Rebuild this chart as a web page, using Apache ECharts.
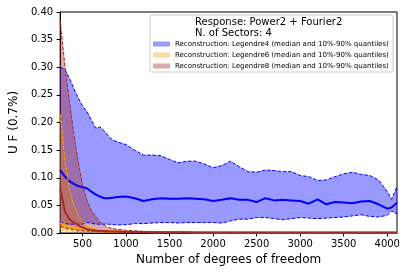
<!DOCTYPE html>
<html><head><meta charset="utf-8">
<script src="https://cdn.jsdelivr.net/npm/echarts@6/dist/echarts.min.js"></script>
<style>html,body{margin:0;padding:0;background:#fff}#c{width:408px;height:274px}</style>
</head><body><div id="c"></div>
<script>
const dof = [244,300,350,400,450,500,550,600,650,700,750,800,850,900,
  1000,1100,1200,1300,1400,1500,1600,1700,1800,1900,2000,2100,2200,2300,2400,2500,2600,2700,2800,2900,3000,3100,3200,3300,3400,3500,3600,3700,3800,3900,4000,4050,4112];

const leg4Hi = [.300,.296,.280,.262,.245,.230,.220,.205,.190,.192,.185,.175,.168,.165,
  .160,.150,.141,.141,.140,.133,.127,.130,.130,.125,.118,.122,.130,.120,.111,.110,.114,.113,.111,.111,.104,.102,.095,.096,.102,.107,.110,.106,.104,.096,.075,.061,.084];
const leg4Med = [.114,.102,.094,.089,.085,.083,.081,.075,.070,.066,.063,.063,.064,.065,
  .066,.063,.058,.061,.063,.062,.062,.063,.062,.061,.058,.060,.063,.060,.060,.056,.063,.059,.060,.059,.058,.053,.061,.052,.056,.055,.054,.057,.058,.052,.044,.046,.055];
const leg4Lo = [.019,.017,.016,.016,.016,.016,.019,.018,.016,.016,.016,.016,.015,.0145,
  .015,.017,.017,.018,.019,.019,.018,.019,.019,.019,.019,.018,.022,.025,.025,.028,.028,.026,.024,.026,.028,.027,.026,.027,.028,.029,.031,.033,.030,.029,.032,.040,.034];

const leg6Hi = [.215,.130,.080,.050,.033,.022,.013,.009,.007,.005,.004,.0035,.003,.003,
  .0025,.0022,.002,.002,.0018,.0016,.0015,.0015,.0014,.0014,.0013,.0013,.0013,.0012,.0012,.0012,.0012,.0011,.0011,.0011,.0011,.0011,.001,.001,.001,.001,.001,.001,.001,.001,.001,.001,.001];
const leg6Med = [.018,.014,.011,.009,.008,.007,.006,.005,.0045,.004,.0035,.003,.0027,.0025,
  .002,.0018,.0016,.0015,.0014,.0013,.0012,.0012,.0011,.0011,.001,.001,.001,.001,.0009,.0009,.0009,.0009,.0009,.0008,.0008,.0008,.0008,.0008,.0008,.0008,.0008,.0007,.0007,.0007,.0007,.0007,.0007];
const leg6Lo = [.006,.004,.0035,.003,.0027,.0024,.0022,.002,.0018,.0016,.0015,.0014,.0013,.0012,
  .0011,.001,.001,.0009,.0009,.0009,.0008,.0008,.0008,.0007,.0007,.0007,.0007,.0007,.0006,.0006,.0006,.0006,.0006,.0006,.0006,.0006,.0006,.0006,.0006,.0006,.0006,.0006,.0006,.0006,.0006,.0006,.0006];

const leg8Hi = [.385,.300,.240,.180,.130,.088,.060,.041,.030,.020,.014,.010,.008,.0067,
  .005,.004,.003,.0025,.002,.0018,.0016,.0015,.0014,.0013,.0013,.0012,.0012,.0012,.0011,.0011,.0011,.0011,.001,.001,.001,.001,.001,.001,.001,.001,.001,.001,.001,.001,.001,.001,.001];
const leg8Med = [.081,.038,.025,.019,.014,.010,.007,.0055,.0045,.0038,.0035,.003,.0027,.0025,
  .002,.0018,.0016,.0015,.0014,.0013,.0012,.0012,.0011,.0011,.001,.001,.001,.001,.0009,.0009,.0009,.0009,.0009,.0008,.0008,.0008,.0008,.0008,.0008,.0008,.0008,.0008,.0008,.0008,.0008,.0008,.0008];
const leg8Lo = [.012,.009,.0075,.006,.005,.004,.0035,.003,.0027,.0025,.0022,.002,.0019,.0018,
  .0015,.0014,.0013,.0012,.0011,.001,.001,.0009,.0009,.0008,.0008,.0008,.0007,.0007,.0007,.0007,.0006,.0006,.0006,.0006,.0006,.0006,.0006,.0006,.0006,.0006,.0006,.0006,.0006,.0006,.0006,.0006,.0006];

const xTicks = [500,1000,1500,2000,2500,3000,3500,4000];
const legendNames = [
  'Reconstruction: Legendre4 (median and 10%-90% quantiles)',
  'Reconstruction: Legendre6 (median and 10%-90% quantiles)',
  'Reconstruction: Legendre8 (median and 10%-90% quantiles)'
];
const titleLines = ['Response: Power2 + Fourier2', 'N. of Sectors: 4'];

const FONT = '"DejaVu Sans", sans-serif';
const groups = [
  {name: legendNames[0], hi: leg4Hi, med: leg4Med, lo: leg4Lo, line: '#0000ff', fill: 'rgba(0,0,255,0.4)'},
  {name: legendNames[1], hi: leg6Hi, med: leg6Med, lo: leg6Lo, line: '#ffa500', fill: 'rgba(255,165,0,0.4)'},
  {name: legendNames[2], hi: leg8Hi, med: leg8Med, lo: leg8Lo, line: '#a52a2a', fill: 'rgba(165,42,42,0.4)'}
];

function pairs(ys){ return dof.map((x,i)=>[x, ys[i]]); }

const series = [];
groups.forEach((g, gi) => {
  series.push({
    type: 'custom', name: g.name, z: 2 + gi * 0.1, silent: true, clip: true,
    itemStyle: {color: g.fill},
    data: dof.map((x,i)=>[x, g.lo[i], g.hi[i]]),
    encode: {x: 0, y: [1, 2]},
    renderItem: function(params, api){
      if (params.dataIndex !== 0) return;
      const pts = [];
      for (let i = 0; i < dof.length; i++) pts.push(api.coord([dof[i], g.hi[i]]));
      for (let i = dof.length - 1; i >= 0; i--) pts.push(api.coord([dof[i], g.lo[i]]));
      return {type: 'polygon', shape: {points: pts}, style: {fill: g.fill}};
    }
  });
});
groups.forEach((g, gi) => {
  const base = {type: 'line', symbol: 'none', showSymbol: false, silent: true, z: 3 + gi * 0.1, clip: true};
  series.push(Object.assign({}, base, {name: 'hi' + gi, data: pairs(g.hi), lineStyle: {color: g.line, width: 1, type: [3.7, 1.6]}}));
  series.push(Object.assign({}, base, {name: 'lo' + gi, data: pairs(g.lo), lineStyle: {color: g.line, width: 1, type: [3.7, 1.6]}}));
  series.push(Object.assign({}, base, {name: 'med' + gi, data: pairs(g.med), lineStyle: {color: g.line, width: 2}}));
});

const chart = echarts.init(document.getElementById('c'), null, {renderer: 'canvas'});
chart.setOption({
  animation: false,
  backgroundColor: '#fff',
  grid: {left: 53, top: 12, right: 11, bottom: 41, show: true, borderColor: '#000', borderWidth: 1, backgroundColor: 'transparent'},
  xAxis: {
    type: 'value', min: 244, max: 4112,
    name: 'Number of degrees of freedom', nameLocation: 'middle', nameGap: 21,
    nameTextStyle: {fontFamily: FONT, fontSize: 12, color: '#000'},
    axisLine: {show: true, lineStyle: {color: '#000', width: 1}},
    axisTick: {show: true, length: 3.5, lineStyle: {color: '#000'}, customValues: xTicks},
    axisLabel: {fontFamily: FONT, fontSize: 10, color: '#000', margin: 6, customValues: xTicks, formatter: v => String(v)},
    splitLine: {show: false}
  },
  yAxis: {
    type: 'value', min: 0, max: 0.4, interval: 0.05,
    name: 'U F (0.7%)', nameLocation: 'middle', nameGap: 36, nameRotate: 90,
    nameTextStyle: {fontFamily: FONT, fontSize: 12, color: '#000'},
    axisLine: {show: true, lineStyle: {color: '#000', width: 1}},
    axisTick: {show: true, length: 3.5, lineStyle: {color: '#000'}},
    axisLabel: {fontFamily: FONT, fontSize: 10, color: '#000', margin: 7, formatter: v => v.toFixed(2)},
    splitLine: {show: false}
  },
  legend: {
    orient: 'vertical', left: 153, top: 40, z: 10, padding: 0,
    itemWidth: 17, itemHeight: 5, itemGap: 3,
    icon: 'rect',
    textStyle: {fontFamily: FONT, fontSize: 7, color: '#000', lineHeight: 8},
    data: groups.map(g => ({name: g.name, icon: 'rect', itemStyle: {color: g.fill}})),
    selectedMode: false
  },
  graphic: [
    {type: 'rect', z: 8, shape: {x: 150, y: 15, width: 243, height: 57, r: 2},
     style: {fill: 'rgba(255,255,255,0.8)', stroke: '#cccccc', lineWidth: 1}},
    {type: 'text', z: 10, x: 195, y: 22, style: {text: titleLines[0], fontFamily: FONT, fontSize: 10, fill: '#000', verticalAlign: 'middle'}},
    {type: 'text', z: 10, x: 195, y: 33, style: {text: titleLines[1], fontFamily: FONT, fontSize: 10, fill: '#000', verticalAlign: 'middle'}}
  ],
  series: series
});
</script></body></html>
